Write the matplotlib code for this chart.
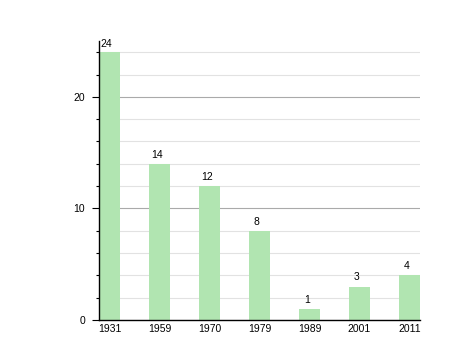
import matplotlib
matplotlib.use("Agg")
import matplotlib.pyplot as plt
from matplotlib.ticker import MultipleLocator

years = ["1931", "1959", "1970", "1979", "1989", "2001", "2011"]
values = [24, 14, 12, 8, 1, 3, 4]

plt.rcParams['font.family'] = ['Liberation Sans', 'DejaVu Sans']

fig = plt.figure(figsize=(4.58, 3.6), dpi=100)
ax = fig.add_axes([0.216, 0.111, 0.701, 0.775])

x = list(range(len(years)))
w = 0.42
ax.bar(x, values, width=w, color="#b1e5b1", zorder=2)

ax.set_xlim(-w / 2, len(years) - 1 + w / 2)
ax.set_ylim(0, 25)
ax.set_xticks(x)
ax.set_xticklabels(years, fontsize=7.5)
ax.tick_params(axis='x', length=0, pad=3)
ax.yaxis.set_major_locator(MultipleLocator(10))
ax.yaxis.set_minor_locator(MultipleLocator(2))
ax.tick_params(axis='y', which='major', length=5, width=0.8, labelsize=7.5, pad=5)
ax.tick_params(axis='y', which='minor', length=2.5, width=0.8)

ax.grid(axis='y', which='minor', color='#e2e2e2', linewidth=0.8, zorder=0)
ax.grid(axis='y', which='major', color='#aaaaaa', linewidth=0.8, zorder=0)
ax.set_axisbelow(True)

for s in ['top', 'right']:
    ax.spines[s].set_visible(False)
for s in ['left', 'bottom']:
    ax.spines[s].set_linewidth(1.0)
    ax.spines[s].set_zorder(3)

for i, v in enumerate(values):
    if i == 0:
        ax.annotate(str(v), (i - w / 2, v), xytext=(1, 2), textcoords='offset points',
                    ha='left', va='bottom', fontsize=7.5)
    else:
        ax.annotate(str(v), (i, v), xytext=(-2, 3), textcoords='offset points',
                    ha='center', va='bottom', fontsize=7.5)

fig.savefig("out.png", dpi=100)
